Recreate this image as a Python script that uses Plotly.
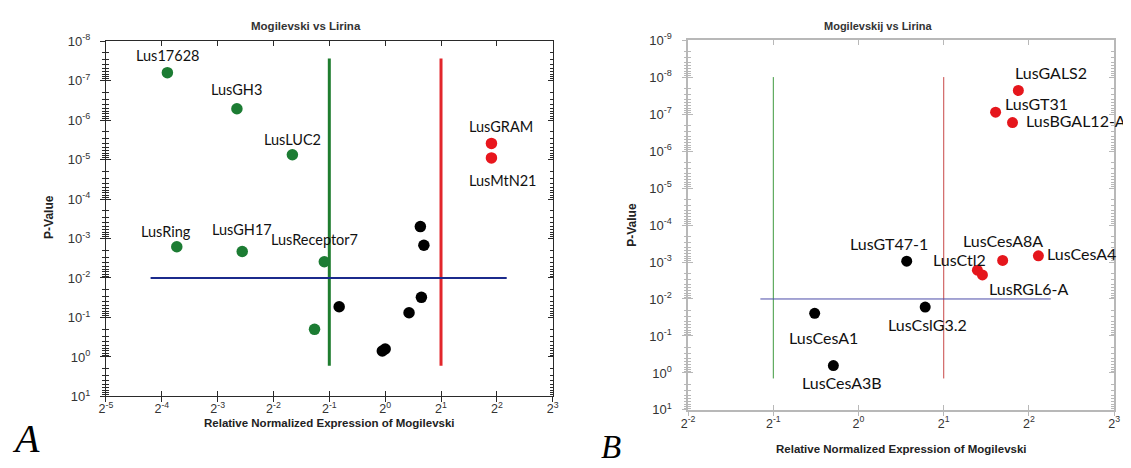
import numpy as np
import plotly.graph_objects as go

# ---------------- Panel A data (Mogilevski vs Lirina) ----------------
a_green_genes = ["Lus17628", "LusGH3", "LusLUC2", "LusRing", "LusGH17", "LusReceptor7", ""]
a_green_fold = [0.0670, 0.1588, 0.3161, 0.0753, 0.1696, 0.4699, 0.4162]
a_green_p = [6.31e-8, 5.19e-7, 7.59e-6, 1.62e-3, 2.14e-3, 3.89e-3, 0.1995]

a_red_genes = ["LusGRAM", "LusMtN21"]
a_red_fold = [3.74, 3.74]
a_red_p = [3.9e-6, 9.1e-6]

a_black_fold = [1.548, 1.617, 0.565, 1.568, 1.345, 0.965, 1.0]
a_black_p = [5.0e-4, 1.48e-3, 0.0537, 0.0309, 0.0759, 0.708, 0.631]

a_fold_cuts = [0.5, 2.0]
a_vline_p = [2.75e-8, 1.66]
a_p_cut = 0.01
a_hline_fold = [0.0544, 4.52]

a_x_exponents = list(range(-5, 4))
a_y_exponents = list(range(-8, 2))

# ---------------- Panel B data (Mogilevskij vs Lirina) ----------------
b_red_genes = ["LusGALS2", "LusGT31", "LusBGAL12-A", "LusCtl2", "LusRGL6-A", "LusCesA8A", "LusCesA4"]
b_red_fold = [3.67, 3.05, 3.50, 2.63, 2.74, 3.23, 4.32]
b_red_p = [2.29e-8, 8.9e-8, 1.70e-7, 1.66e-3, 2.24e-3, 9.1e-4, 6.8e-4]

b_black_genes = ["LusGT47-1", "LusCslG3.2", "LusCesA1", "LusCesA3B"]
b_black_fold = [1.48, 1.72, 0.70, 0.815]
b_black_p = [9.5e-4, 0.0166, 0.0245, 0.63]

b_fold_cuts = [0.5, 2.0]
b_vline_p = [1.0e-8, 1.41]
b_p_cut = 0.01
b_hline_fold = [0.45, 4.78]

b_x_exponents = list(range(-2, 4))
b_y_exponents = list(range(-9, 2))

# ---------------- label placement (pixel offsets, styles) ----------------
a_label_pos = {
    "Lus17628": (0, 17, "center"), "LusGH3": (0, 19, "center"), "LusLUC2": (0, 15, "center"),
    "LusRing": (-11, 15, "center"), "LusGH17": (0, 22, "center"), "LusReceptor7": (-10, 22, "center"),
    "LusGRAM": (10, 17, "center"), "LusMtN21": (12, -23, "center"),
}
b_label_pos = {
    "LusGALS2": (33, 18, "center"), "LusGT31": (7, 9, "left"), "LusBGAL12-A": (11, 2, "left"),
    "LusCtl2": (-18, 11, "center"), "LusRGL6-A": (46, -14, "center"), "LusCesA8A": (0, 20, "center"),
    "LusCesA4": (7, 2, "left"), "LusGT47-1": (-18, 18, "center"), "LusCslG3.2": (2, -17, "center"),
    "LusCesA1": (9, -24, "center"), "LusCesA3B": (9, -17, "center"),
}

# page body margin of the browser shifts the figure by 8px; compensate
OFF = 8
W, H = 1131 - OFF, 468 - OFF
LOG2 = np.log10(2)


def pxx(x):
    return (x - OFF) / W


def pyy(y):
    return 1 - (y - OFF) / H


fig = go.Figure()


def pts(x, y, color, size, xa, ya, opacity=1.0):
    fig.add_trace(go.Scatter(x=x, y=y, mode="markers", xaxis=xa, yaxis=ya, opacity=opacity,
                             marker=dict(color=color, size=size, line=dict(width=0)),
                             showlegend=False, hoverinfo="skip"))


def seg(x, y, color, width, xa, ya):
    fig.add_trace(go.Scatter(x=x, y=y, mode="lines", xaxis=xa, yaxis=ya,
                             line=dict(color=color, width=width),
                             showlegend=False, hoverinfo="skip"))


# Panel A
seg([a_fold_cuts[0]] * 2, a_vline_p, "#1f7d2f", 3, "x", "y")
seg([a_fold_cuts[1]] * 2, a_vline_p, "#e2262b", 3, "x", "y")
seg(a_hline_fold, [a_p_cut] * 2, "#1b2a8c", 2, "x", "y")
pts(a_green_fold, a_green_p, "#1c7c33", 11.5, "x", "y")
pts(a_red_fold, a_red_p, "#e8161d", 11.5, "x", "y")
pts(a_black_fold, a_black_p, "#000000", 11.5, "x", "y")
pts(a_black_fold, a_black_p, "#000000", 1, "x3", "y3", opacity=0)

# Panel B
seg([b_fold_cuts[0]] * 2, b_vline_p, "#3f9a3f", 1, "x2", "y2")
seg([b_fold_cuts[1]] * 2, b_vline_p, "#c84848", 1, "x2", "y2")
seg(b_hline_fold, [b_p_cut] * 2, "#4c4ca8", 1, "x2", "y2")
pts(b_red_fold, b_red_p, "#e5161c", 11, "x2", "y2")
pts(b_black_fold, b_black_p, "#000000", 11, "x2", "y2")
pts(b_black_fold, b_black_p, "#000000", 1, "x4", "y4", opacity=0)

ytickfont = dict(family="Liberation Sans", size=13, color="#333333")
xtickfont = dict(family="Liberation Sans", size=12.5, color="#333333")


def xaxis(domain, exps, anchor, color, labels=True, ticks="inside", mirror="ticks", showline=True,
          overlay=None, lw=1):
    d = dict(type="log", domain=domain, range=[exps[0] * LOG2, exps[-1] * LOG2], anchor=anchor,
             tickmode="array", tickvals=[2.0 ** k for k in exps],
             ticktext=[f"2<sup>{k}</sup>" for k in exps], showticklabels=labels,
             ticks=ticks, ticklen=5, tickcolor=color, showgrid=False, zeroline=False,
             showline=showline, linecolor=color, linewidth=lw, mirror=mirror,
             tickfont=xtickfont, ticklabelstandoff=1)
    if overlay:
        d["overlaying"] = overlay
    return d


def yaxis(domain, exps, anchor, color, labels=True, ticks="inside", mirror="ticks", showline=True,
          overlay=None, lw=1):
    minor_vals = [m * 10.0 ** k for k in exps[:-1] for m in range(2, 10)]
    d = dict(type="log", domain=domain, range=[exps[-1], exps[0]], anchor=anchor,
             tickmode="array", tickvals=[10.0 ** k for k in exps],
             ticktext=[f"10<sup>{k}</sup>" for k in exps], showticklabels=labels,
             ticks=ticks, ticklen=5, tickcolor=color, showgrid=False, zeroline=False,
             showline=showline, linecolor=color, linewidth=lw, mirror=mirror,
             minor=dict(ticks=ticks, ticklen=3, tickmode="array", tickvals=minor_vals,
                        tickcolor=color, showgrid=False),
             tickfont=ytickfont, ticklabelstandoff=12)
    if overlay:
        d["overlaying"] = overlay
    return d


a_xd = [pxx(100), pxx(552)]
a_yd = [pyy(402), pyy(33)]
b_xd = [pxx(689), pxx(1120)]
b_yd = [pyy(416), pyy(32)]

ca, cb = "#2a2a2a", "#b8b8b8"
fig.update_layout(
    xaxis=xaxis(a_xd, a_x_exponents, "y", ca),
    yaxis=yaxis(a_yd, a_y_exponents, "x", ca),
    xaxis3=xaxis(a_xd, a_x_exponents, "y3", ca, labels=False, ticks="outside", mirror=False,
                 showline=False, overlay="x"),
    yaxis3=yaxis(a_yd, a_y_exponents, "x3", ca, labels=False, ticks="outside", mirror=False,
                 showline=False, overlay="y"),
    xaxis2=xaxis(b_xd, b_x_exponents, "y2", cb, lw=1.5),
    yaxis2=yaxis(b_yd, b_y_exponents, "x2", cb, lw=1.5),
    xaxis4=xaxis(b_xd, b_x_exponents, "y4", cb, labels=False, ticks="outside", mirror=False,
                 showline=False, overlay="x2"),
    yaxis4=yaxis(b_yd, b_y_exponents, "x4", cb, labels=False, ticks="outside", mirror=False,
                 showline=False, overlay="y2"),
)

ann = []
label_font_a = dict(family="Lato", size=14.5, color="#111111")
label_font_b = dict(family="Lato", size=16, color="#111111")


def add_labels(genes, folds, ps, pos, xref, yref, font):
    for g, f, p in zip(genes, folds, ps):
        if not g:
            continue
        dx, dy, anc = pos[g]
        ann.append(dict(x=np.log10(f), y=np.log10(p), xref=xref, yref=yref, text=g, showarrow=False,
                        xanchor=anc, yanchor="middle", xshift=dx, yshift=dy, font=font))


add_labels(a_green_genes, a_green_fold, a_green_p, a_label_pos, "x", "y", label_font_a)
add_labels(a_red_genes, a_red_fold, a_red_p, a_label_pos, "x", "y", label_font_a)
add_labels(b_red_genes, b_red_fold, b_red_p, b_label_pos, "x2", "y2", label_font_b)
add_labels(b_black_genes, b_black_fold, b_black_p, b_label_pos, "x2", "y2", label_font_b)


def ptext(text, px, py, size, family="Liberation Sans", color="#222222", angle=0):
    ann.append(dict(x=pxx(px), y=pyy(py), xref="paper", yref="paper", text=text, showarrow=False,
                    xanchor="center", yanchor="middle", textangle=angle,
                    font=dict(family=family, size=size, color=color)))


ptext("<b>Mogilevski vs Lirina</b>", 302, 17, 11.5, color="#333333")
ptext("<b>Mogilevskij vs Lirina</b>", 881, 17, 11, color="#333333")
ptext("<b>P-Value</b>", 43, 216, 12, angle=-90)
ptext("<b>P-Value</b>", 632, 224, 12, angle=-90)
ptext("<b>Relative Normalized Expression of Mogilevski</b>", 326, 430, 11.5)
ptext("<b>Relative Normalized Expression of Mogilevski</b>", 905, 457, 11.5)
ptext("<i>A</i>", 19, 446, 40, family="Liberation Serif", color="#000000")
ptext("<i>B</i>", 611, 455, 33, family="Liberation Serif", color="#000000")

fig.update_layout(annotations=ann, width=W, height=H, margin=dict(l=0, r=0, t=0, b=0),
                  paper_bgcolor="white", plot_bgcolor="white", showlegend=False)

fig.write_html("out.html")
